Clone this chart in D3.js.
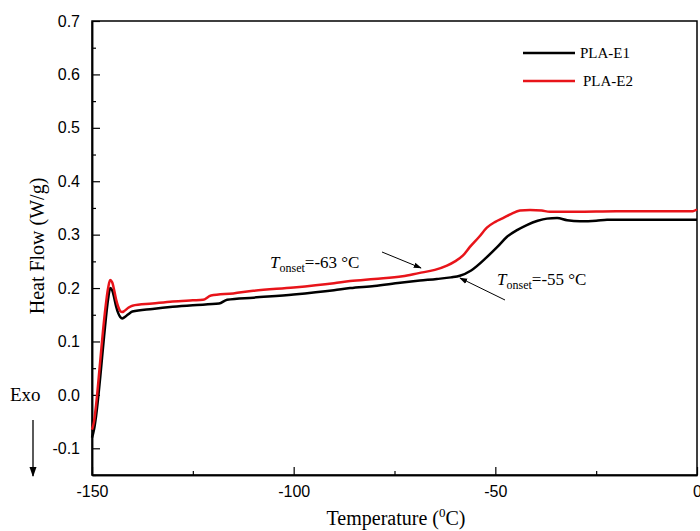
<!DOCTYPE html>
<html><head><meta charset="utf-8">
<script src="https://cdn.jsdelivr.net/npm/d3@7"></script>
<style>body{margin:0;background:#fff}svg{display:block}</style>
</head><body>
<svg id="c" width="700" height="531"></svg>
<script>
const e1Temp = [-150,-149.5,-149,-148,-147,-146,-145.5,-145,-144.5,-144,-143.5,-143,-142.5,-142,-141,-140,-135,-130,-125,-118.5,-116.5,-110,-100,-90,-86,-80,-73.6,-68.7,-64.5,-61,-58.8,-56,-52.1,-49.5,-47.1,-44.5,-42.2,-39.5,-37.2,-34.7,-32.2,-29,-25,-22.3,-17.3,-10,0];
const e1Val  = [-0.08,-0.065,-0.04,0.03,0.11,0.18,0.200,0.196,0.182,0.165,0.153,0.146,0.143,0.145,0.151,0.156,0.161,0.165,0.168,0.171,0.178,0.182,0.188,0.196,0.200,0.204,0.210,0.214,0.217,0.220,0.223,0.233,0.258,0.277,0.296,0.309,0.318,0.326,0.330,0.331,0.327,0.325,0.326,0.328,0.328,0.328,0.328];
const e2Temp = [-150,-149.5,-149,-148,-147,-146,-145.5,-145,-144.5,-144,-143.5,-143,-142.5,-142,-141,-140,-135,-130,-125,-122.5,-120.5,-115,-110,-100,-90,-86,-80,-73,-69,-65,-62,-60,-58,-56.3,-54,-52.1,-50,-48.1,-46,-43.9,-41.4,-38.5,-36.5,-30,-20,-10,-1,0];
const e2Val  = [-0.065,-0.05,-0.02,0.06,0.14,0.20,0.215,0.211,0.196,0.178,0.165,0.157,0.155,0.157,0.163,0.167,0.171,0.175,0.177,0.178,0.186,0.190,0.195,0.201,0.209,0.213,0.217,0.222,0.228,0.234,0.242,0.250,0.261,0.277,0.296,0.313,0.324,0.331,0.339,0.345,0.346,0.345,0.343,0.343,0.344,0.344,0.344,0.347];
const xTicks = [-150,-100,-50,0];
const xMinor = [-125,-75,-25];
const yTicks = [-0.1,0.0,0.1,0.2,0.3,0.4,0.5,0.6,0.7];
const yMinor = [-0.15,-0.05,0.05,0.15,0.25,0.35,0.45,0.55,0.65];
const seriesNames = ["PLA-E1","PLA-E2"];
const seriesColors = ["#000000","#e8141a"];

const svg = d3.select("#c");
const L=92, R=697, T=21, B=475;
const x = d3.scaleLinear().domain([-150,0]).range([L,R]);
const y = d3.scaleLinear().domain([-0.15,0.7]).range([B,T]);
const hy = s => s.replace("\u2212","-");

svg.append("rect").attr("x",L).attr("y",T).attr("width",R-L).attr("height",B-T)
  .attr("fill","none").attr("stroke","#000").attr("stroke-width",1.5);

const xAx = svg.append("g").attr("transform",`translate(0,${B})`)
  .call(d3.axisBottom(x).tickValues(xTicks).tickSizeInner(-8).tickSizeOuter(0).tickFormat(d=>hy(String(d))));
svg.append("g").attr("transform",`translate(0,${B})`)
  .call(d3.axisBottom(x).tickValues(xMinor).tickSizeInner(-4).tickSizeOuter(0).tickFormat(""));
const yAx = svg.append("g").attr("transform",`translate(${L},0)`)
  .call(d3.axisLeft(y).tickValues(yTicks).tickSizeInner(-8).tickSizeOuter(0).tickFormat(d=>hy(d.toFixed(1))));
svg.append("g").attr("transform",`translate(${L},0)`)
  .call(d3.axisLeft(y).tickValues(yMinor).tickSizeInner(-4).tickSizeOuter(0).tickFormat(""));
svg.selectAll(".domain").attr("stroke","#000").attr("stroke-width",1.5);
svg.selectAll(".tick line").attr("stroke","#000").attr("stroke-width",1.2);
xAx.selectAll("text").attr("font-family","Liberation Sans, Arial, sans-serif").attr("font-size",16).attr("fill","#000").attr("dy","1.2em");
yAx.selectAll("text").attr("font-family","Liberation Sans, Arial, sans-serif").attr("font-size",16).attr("fill","#000").attr("x",-12);

const line = d3.line().x(d=>x(d[0])).y(d=>y(d[1])).curve(d3.curveMonotoneX);
const data = [d3.zip(e1Temp,e1Val), d3.zip(e2Temp,e2Val)];
data.forEach((d,i)=>{
  svg.append("path").datum(d).attr("d",line).attr("fill","none")
    .attr("stroke",seriesColors[i]).attr("stroke-width",2.5).attr("stroke-linejoin","round");
});

seriesNames.forEach((n,i)=>{
  const ly = 53 + i*28;
  svg.append("line").attr("x1",523).attr("x2",575).attr("y1",ly).attr("y2",ly)
    .attr("stroke",seriesColors[i]).attr("stroke-width",2.5);
  svg.append("text").attr("x",580+i*3).attr("y",ly+5).text(n)
    .attr("font-family","Liberation Serif, Times New Roman, serif").attr("font-size",15).attr("fill","#000");
});

const serif = "Liberation Serif, Times New Roman, serif";
svg.append("text").attr("transform","translate(44,246) rotate(-90)").attr("text-anchor","middle")
  .attr("font-family",serif).attr("font-size",20).text("Heat Flow (W/g)");
const xt = svg.append("text").attr("x",396).attr("y",525).attr("text-anchor","middle")
  .attr("font-family",serif).attr("font-size",20);
xt.append("tspan").text("Temperature (");
xt.append("tspan").attr("dy",-8).attr("font-size",13).text("0");
xt.append("tspan").attr("dy",8).text("C)");

svg.append("text").attr("x",10).attr("y",401).attr("font-family",serif).attr("font-size",19).text("Exo");
const defs = svg.append("defs");
defs.append("marker").attr("id","ah").attr("viewBox","0 0 10 10").attr("refX",9).attr("refY",5)
  .attr("markerWidth",8).attr("markerHeight",8).attr("orient","auto-start-reverse")
  .append("path").attr("d","M0,1.5 L10,5 L0,8.5 z").attr("fill","#000");
svg.append("line").attr("x1",33).attr("x2",33).attr("y1",420).attr("y2",476)
  .attr("stroke","#000").attr("stroke-width",1.3).attr("marker-end","url(#ah)");

function onset(tx,ty,val){
  const t = svg.append("text").attr("x",tx).attr("y",ty).attr("font-family",serif).attr("font-size",17);
  t.append("tspan").attr("font-style","italic").text("T");
  t.append("tspan").attr("dy",4).attr("font-size",12).text("onset");
  t.append("tspan").attr("dy",-4).text("=" + val + " \u00B0C");
}
onset(270,268,"-63");
onset(497,285,"-55");
svg.append("line").attr("x1",382).attr("y1",252).attr("x2",421).attr("y2",268)
  .attr("stroke","#000").attr("stroke-width",1).attr("marker-end","url(#ah)");
svg.append("line").attr("x1",505).attr("y1",300).attr("x2",460).attr("y2",278)
  .attr("stroke","#000").attr("stroke-width",1).attr("marker-end","url(#ah)");
</script>
</body></html>
